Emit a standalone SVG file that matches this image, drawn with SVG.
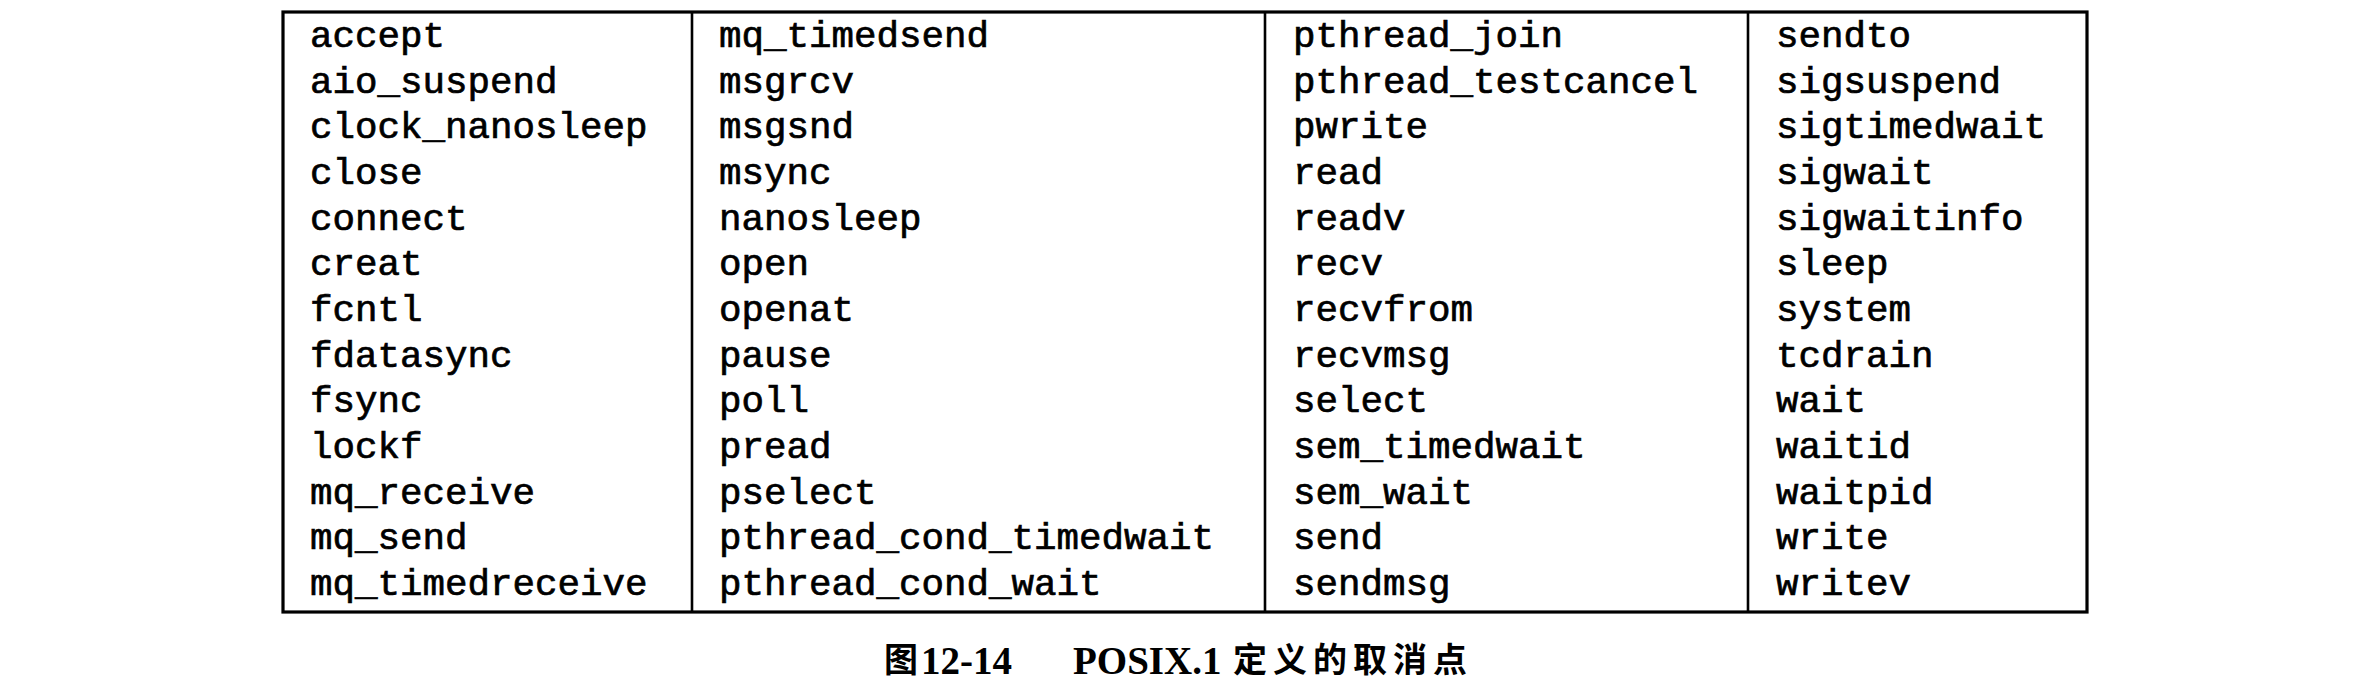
<svg xmlns="http://www.w3.org/2000/svg" width="2354" height="694" viewBox="0 0 2354 694">
<style>
.frame{fill:none;stroke:#000;stroke-width:3.2}
.div{stroke:#000;stroke-width:2.6}
.cell{font-family:"Liberation Mono","Courier New",monospace;font-size:37.5px;fill:#000;stroke:#000;stroke-width:0.7}
.cap{font-family:"Liberation Serif","Times New Roman",serif;font-size:39px;font-weight:bold;fill:#000}
.capc{font-family:"Noto Sans CJK SC",sans-serif;font-size:34px;font-weight:bold;fill:#000}
</style>
<rect width="2354" height="694" fill="#fff"/>
<g id="table">
<rect class="frame" x="283" y="12" width="1804" height="600"/>
<line class="div" x1="692" y1="12" x2="692" y2="612"/>
<line class="div" x1="1265" y1="12" x2="1265" y2="612"/>
<line class="div" x1="1748" y1="12" x2="1748" y2="612"/>
</g>
<g id="col1">
<text class="cell"><tspan x="310" y="47">accept</tspan><tspan x="310" y="92.7">aio_suspend</tspan><tspan x="310" y="138.3">clock_nanosleep</tspan><tspan x="310" y="184">close</tspan><tspan x="310" y="229.7">connect</tspan><tspan x="310" y="275.3">creat</tspan><tspan x="310" y="321">fcntl</tspan><tspan x="310" y="366.7">fdatasync</tspan><tspan x="310" y="412.3">fsync</tspan><tspan x="310" y="458">lockf</tspan><tspan x="310" y="503.7">mq_receive</tspan><tspan x="310" y="549.3">mq_send</tspan><tspan x="310" y="595">mq_timedreceive</tspan></text>
</g>
<g id="col2">
<text class="cell"><tspan x="719" y="47">mq_timedsend</tspan><tspan x="719" y="92.7">msgrcv</tspan><tspan x="719" y="138.3">msgsnd</tspan><tspan x="719" y="184">msync</tspan><tspan x="719" y="229.7">nanosleep</tspan><tspan x="719" y="275.3">open</tspan><tspan x="719" y="321">openat</tspan><tspan x="719" y="366.7">pause</tspan><tspan x="719" y="412.3">poll</tspan><tspan x="719" y="458">pread</tspan><tspan x="719" y="503.7">pselect</tspan><tspan x="719" y="549.3">pthread_cond_timedwait</tspan><tspan x="719" y="595">pthread_cond_wait</tspan></text>
</g>
<g id="col3">
<text class="cell"><tspan x="1293" y="47">pthread_join</tspan><tspan x="1293" y="92.7">pthread_testcancel</tspan><tspan x="1293" y="138.3">pwrite</tspan><tspan x="1293" y="184">read</tspan><tspan x="1293" y="229.7">readv</tspan><tspan x="1293" y="275.3">recv</tspan><tspan x="1293" y="321">recvfrom</tspan><tspan x="1293" y="366.7">recvmsg</tspan><tspan x="1293" y="412.3">select</tspan><tspan x="1293" y="458">sem_timedwait</tspan><tspan x="1293" y="503.7">sem_wait</tspan><tspan x="1293" y="549.3">send</tspan><tspan x="1293" y="595">sendmsg</tspan></text>
</g>
<g id="col4">
<text class="cell"><tspan x="1776" y="47">sendto</tspan><tspan x="1776" y="92.7">sigsuspend</tspan><tspan x="1776" y="138.3">sigtimedwait</tspan><tspan x="1776" y="184">sigwait</tspan><tspan x="1776" y="229.7">sigwaitinfo</tspan><tspan x="1776" y="275.3">sleep</tspan><tspan x="1776" y="321">system</tspan><tspan x="1776" y="366.7">tcdrain</tspan><tspan x="1776" y="412.3">wait</tspan><tspan x="1776" y="458">waitid</tspan><tspan x="1776" y="503.7">waitpid</tspan><tspan x="1776" y="549.3">write</tspan><tspan x="1776" y="595">writev</tspan></text>
</g>
<g id="caption">
<text class="capc" x="884" y="672">图</text>
<text class="cap" x="921" y="674">12-14</text>
<text class="cap" x="1073" y="674">POSIX.1</text>
<text class="capc" x="1233" y="672" letter-spacing="6">定义的取消点</text>
</g>
</svg>
